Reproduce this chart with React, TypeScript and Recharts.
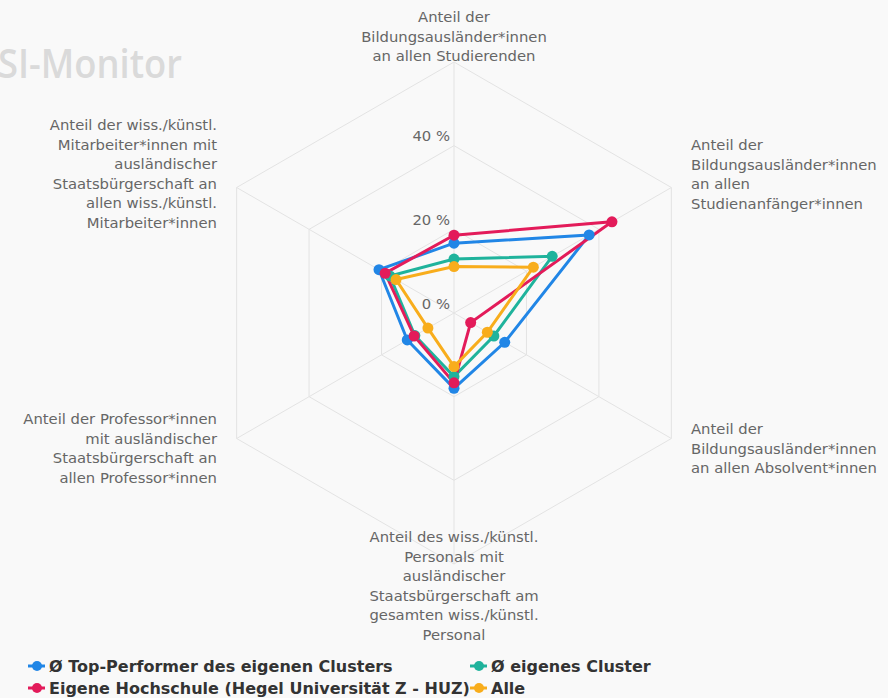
import React from "react";
import { RadarChart, Radar, PolarGrid, PolarAngleAxis, PolarRadiusAxis, Legend } from "recharts";

const categories: string[][] = [
  ["Anteil der", "Bildungsausländer*innen", "an allen Studierenden"],
  ["Anteil der", "Bildungsausländer*innen", "an allen", "Studienanfänger*innen"],
  ["Anteil der", "Bildungsausländer*innen", "an allen Absolvent*innen"],
  ["Anteil des wiss./künstl.", "Personals mit", "ausländischer", "Staatsbürgerschaft am", "gesamten wiss./künstl.", "Personal"],
  ["Anteil der Professor*innen", "mit ausländischer", "Staatsbürgerschaft an", "allen Professor*innen"],
  ["Anteil der wiss./künstl.", "Mitarbeiter*innen mit", "ausländischer", "Staatsbürgerschaft an", "allen wiss./künstl.", "Mitarbeiter*innen"],
];

const topPerformer = [16.7, 37.3, 14.0, 18.0, 12.9, 20.7];
const eigenesCluster = [12.9, 27.1, 11.0, 15.2, 10.8, 17.7];
const eigeneHochschule = [18.6, 43.6, 4.6, 16.7, 11.0, 19.0];
const alle = [11.1, 21.9, 9.2, 12.8, 7.2, 16.0];

const radiusTicks = [0, 20, 40, 60];

const seriesNames = [
  "Ø Top-Performer des eigenen Clusters",
  "Ø eigenes Cluster",
  "Eigene Hochschule (Hegel Universität Z - HUZ)",
  "Alle",
];
const seriesKeys = ["top", "cluster", "own", "alle"];
const seriesColors = ["#2186e6", "#1fb39c", "#e31b5a", "#f8ad1c"];

const data = categories.map((c, i) => ({
  idx: i,
  top: topPerformer[i],
  cluster: eigenesCluster[i],
  own: eigeneHochschule[i],
  alle: alle[i],
}));

const FONT = "'DejaVu Sans', sans-serif";
const LINE_H = 19.6;

// per-index label placement relative to the tick anchor
const labelPlacement: { dx: number; dy: number; anchor: "start" | "middle" | "end" }[] = [
  { dx: 0, dy: -32, anchor: "middle" },
  { dx: 12.7, dy: -33.5, anchor: "start" },
  { dx: 12.7, dy: -8.5, anchor: "start" },
  { dx: 0, dy: -30, anchor: "middle" },
  { dx: -12.7, dy: -18.5, anchor: "end" },
  { dx: -12.7, dy: -53.5, anchor: "end" },
];

const AngleTick = (props: any) => {
  const { x, y, payload } = props;
  const i = payload.value as number;
  const lines = categories[i];
  const p = labelPlacement[i];
  return (
    <text
      x={x + p.dx}
      y={y + p.dy}
      textAnchor={p.anchor}
      fill="#666666"
      fontSize={14.8}
      fontFamily={FONT}
    >
      {lines.map((l, k) => (
        <tspan key={k} x={x + p.dx} dy={k === 0 ? 0 : LINE_H}>
          {l}
        </tspan>
      ))}
    </text>
  );
};

const RadiusTick = (props: any) => {
  const { x, y, payload } = props;
  if (payload.value === 60) return <g />;
  return (
    <text x={x - 4} y={y - 4.5} textAnchor="end" fill="#666666" fontSize={14.8} fontFamily={FONT}>
      {`${payload.value} %`}
    </text>
  );
};

const LegendContent = () => {
  const positions = [
    { left: 28, top: 656 },
    { left: 470, top: 656 },
    { left: 28, top: 678 },
    { left: 470, top: 678 },
  ];
  return (
    <div style={{ position: "relative", width: 888, height: 44 }}>
      {seriesNames.map((n, i) => (
        <div
          key={n}
          style={{
            position: "absolute",
            left: positions[i].left,
            top: positions[i].top - 652,
            display: "flex",
            alignItems: "center",
            height: 20,
            whiteSpace: "nowrap",
          }}
        >
          <svg width={18} height={20} style={{ display: "block" }}>
            <line x1={0} y1={10} x2={17} y2={10} stroke={seriesColors[i]} strokeWidth={3} />
            <circle cx={9} cy={10} r={5} fill={seriesColors[i]} />
          </svg>
          <span
            style={{
              marginLeft: 3,
              fontFamily: FONT,
              fontWeight: "bold",
              fontSize: 16,
              color: "#333333",
            }}
          >
            {n}
          </span>
        </div>
      ))}
    </div>
  );
};

export default function App() {
  return (
    <div
      style={{
        position: "absolute",
        left: 0,
        top: 0,
        width: 888,
        height: 698,
        background: "#f9f9f9",
        overflow: "hidden",
      }}
    >
      <svg width={888} height={100} style={{ position: "absolute", left: 0, top: 0 }}>
        <text
          x={-2}
          y={78}
          fill="#dadada"
          fontSize={40}
          fontWeight={600}
          fontFamily="'Open Sans', sans-serif"
          textLength={184}
          lengthAdjust="spacingAndGlyphs"
        >
          SI-Monitor
        </text>
      </svg>
      <RadarChart
        width={888}
        height={698}
        data={data}
        cx={454}
        cy={313}
        outerRadius={251}
        margin={{ top: 0, right: 0, bottom: 0, left: 0 }}
        style={{ position: "absolute", left: 0, top: 0 }}
      >
        <PolarGrid gridType="polygon" stroke="#e3e3e3" strokeWidth={1} />
        <PolarAngleAxis dataKey="idx" tick={AngleTick} tickLine={false} axisLine={false} />
        <PolarRadiusAxis
          angle={90}
          domain={[0, 60]}
          ticks={radiusTicks}
          tick={RadiusTick}
          axisLine={false}
          tickLine={false}
        />
        {seriesKeys.map((k, i) => (
          <Radar
            key={k}
            name={seriesNames[i]}
            dataKey={k}
            stroke={seriesColors[i]}
            strokeWidth={3}
            fill="none"
            fillOpacity={0}
            dot={{ r: 5.5, fill: seriesColors[i], stroke: seriesColors[i], strokeWidth: 0, fillOpacity: 1 }}
            isAnimationActive={false}
          />
        ))}
        <Legend
          content={LegendContent}
          wrapperStyle={{ position: "absolute", left: 0, top: 652, width: 888, height: 44 }}
        />
      </RadarChart>
    </div>
  );
}
